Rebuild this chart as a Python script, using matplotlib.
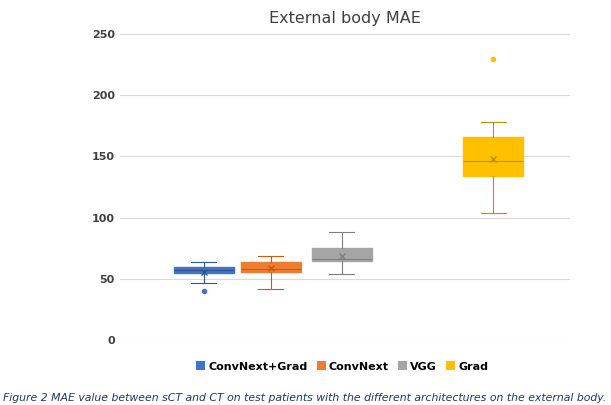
import matplotlib.pyplot as plt
from matplotlib.patches import Patch

names = ['ConvNext+Grad', 'ConvNext', 'VGG', 'Grad']
q1 = [55, 55.5, 64.5, 134]
med = [57, 58, 66, 146]
q3 = [60, 64, 75, 166]
whislo = [46.5, 42, 54, 104]
whishi = [64, 68.5, 88, 178]
means = [56, 59, 69, 148]
fliers = [[40.5], [], [], [230]]

colors = ['#4472C4', '#ED7D31', '#A5A5A5', '#FFC000']
edges = ['#2F5597', '#C55A11', '#7F7F7F', '#BF9000']
positions = [204, 271, 342, 493]

fig = plt.figure(figsize=(6.11, 4.05), dpi=100)
ax = fig.add_axes([0.196, 0.16, 0.737, 0.756])

stats = []
for i in range(len(names)):
    stats.append({'q1': q1[i], 'med': med[i], 'q3': q3[i], 'whislo': whislo[i],
                  'whishi': whishi[i], 'mean': means[i], 'fliers': fliers[i]})

for i, s in enumerate(stats):
    ax.bxp([s], positions=[positions[i]], widths=60, patch_artist=True,
           showmeans=True, meanline=False,
           boxprops=dict(facecolor=colors[i], edgecolor=colors[i], linewidth=1),
           medianprops=dict(color=edges[i], linewidth=0.8),
           whiskerprops=dict(color=edges[i], linewidth=0.8),
           capprops=dict(color=edges[i], linewidth=0.8),
           capwidths=25,
           meanprops=dict(marker='x', markeredgecolor=edges[i], markersize=5),
           flierprops=dict(marker='o', markerfacecolor=colors[i],
                           markeredgecolor=colors[i], markersize=3))

ax.set_xlim(120, 570)
ax.set_ylim(0, 250)
ax.set_yticks(range(0, 251, 50))
ax.set_xticks([])
ax.yaxis.grid(True, color='#D9D9D9', linewidth=0.8)
ax.set_axisbelow(True)
for sp in ax.spines.values():
    sp.set_visible(False)
ax.tick_params(axis='y', length=0, labelsize=8, labelcolor='#404040')
for t in ax.get_yticklabels():
    t.set_fontweight('bold')
ax.set_title('External body MAE', fontsize=11.5, color='#404040', pad=8)

handles = [Patch(facecolor=c, label=n) for c, n in zip(colors, names)]
fig.legend(handles=handles, loc='center', bbox_to_anchor=(0.56, 0.095), ncol=4,
           frameon=False, handlelength=0.8, handleheight=0.8,
           columnspacing=0.8, handletextpad=0.3, prop={'weight': 'bold', 'size': 8})

fig.text(0.005, 0.01, 'Figure 2 MAE value between sCT and CT on test patients with the different architectures on the external body.',
         fontsize=7.8, style='italic', color='#1F3864')

fig.savefig('out.png')
